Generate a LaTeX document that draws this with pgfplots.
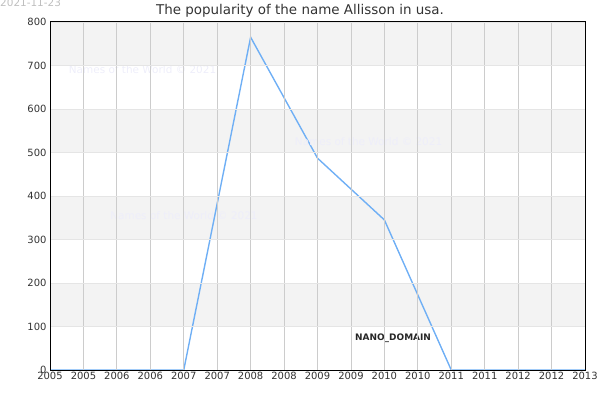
\documentclass[border=0pt]{standalone}
\usepackage{pgfplots}
\pgfplotsset{compat=1.18}
\usepackage{fontspec}
\setmainfont{DejaVu Sans}
\definecolor{linec}{HTML}{6FAFF5}
\definecolor{band}{HTML}{F3F3F3}
\definecolor{txt}{HTML}{333333}
\definecolor{wm}{HTML}{EEEEFA}

\begin{document}
\begin{tikzpicture}
\begin{axis}[
	axis on top,
	scale only axis,
	width=535bp, height=348bp,
	xmin=2005, xmax=2013, ymin=0, ymax=800,
	xtick={2005,2005.5,2006,2006.5,2007,2007.5,2008,2008.5,2009,2009.5,2010,2010.5,2011,2011.5,2012,2012.5,2013},
	xticklabels={2005,2005,2006,2006,2007,2007,2008,2008,2009,2009,2010,2010,2011,2011,2012,2012,2013},
	ytick={0,100,...,800},
	yticklabel style={/pgf/number format/1000 sep=},
	/pgf/number format/assume math mode=true,
	tick label style={font=\fontsize{10}{12}\selectfont, text=txt},
	xticklabel style={yshift=1bp},
	tick style={draw=none},
	xmajorgrids, ymajorgrids,
	x grid style={draw=black!20, line width=0.8pt},
	y grid style={draw=black!10, line width=0.8pt},
	axis line style={black, line width=1pt},
	clip=false,
]
% alternating background bands
\addplot[draw=none, fill=band] coordinates {(2005,700) (2013,700) (2013,800) (2005,800)} -- cycle;
\addplot[draw=none, fill=band] coordinates {(2005,500) (2013,500) (2013,600) (2005,600)} -- cycle;
\addplot[draw=none, fill=band] coordinates {(2005,300) (2013,300) (2013,400) (2005,400)} -- cycle;
\addplot[draw=none, fill=band] coordinates {(2005,100) (2013,100) (2013,200) (2005,200)} -- cycle;

\addplot[linec, line width=1.4pt] coordinates {
	(2005,0) (2006,0) (2007,0) (2008,765) (2009,487) (2010,345) (2011,0) (2012,0) (2013,0)
};

\node[anchor=west, inner sep=0pt, text=wm, font=\fontsize{10.5}{12}\selectfont] at (axis cs:2005.28,690) {Names of the World © 2021};
\node[anchor=west, inner sep=0pt, text=wm, font=\fontsize{10.5}{12}\selectfont] at (axis cs:2008.66,526) {Names of the World © 2021};
\node[anchor=west, inner sep=0pt, text=wm, font=\fontsize{10.5}{12}\selectfont] at (axis cs:2005.9,356) {Names of the World © 2021};
\node[text=black!85, font=\bfseries\fontsize{9}{10}\selectfont] at (axis cs:2010.13,73) {NANO\_DOMAIN};
\end{axis}
\node[anchor=base, text=txt, font=\fontsize{13.5}{15}\selectfont, inner sep=0pt] at (250bp,355bp) {The popularity of the name Allisson in usa.};
\node[anchor=base west, text=black!25, font=\fontsize{10.5}{12}\selectfont, inner sep=0pt] at (-50bp,363bp) {2021-11-23};
\pgfresetboundingbox
\path[use as bounding box] (-50bp,-30bp) rectangle (550bp,370bp);
\end{tikzpicture}
\end{document}
